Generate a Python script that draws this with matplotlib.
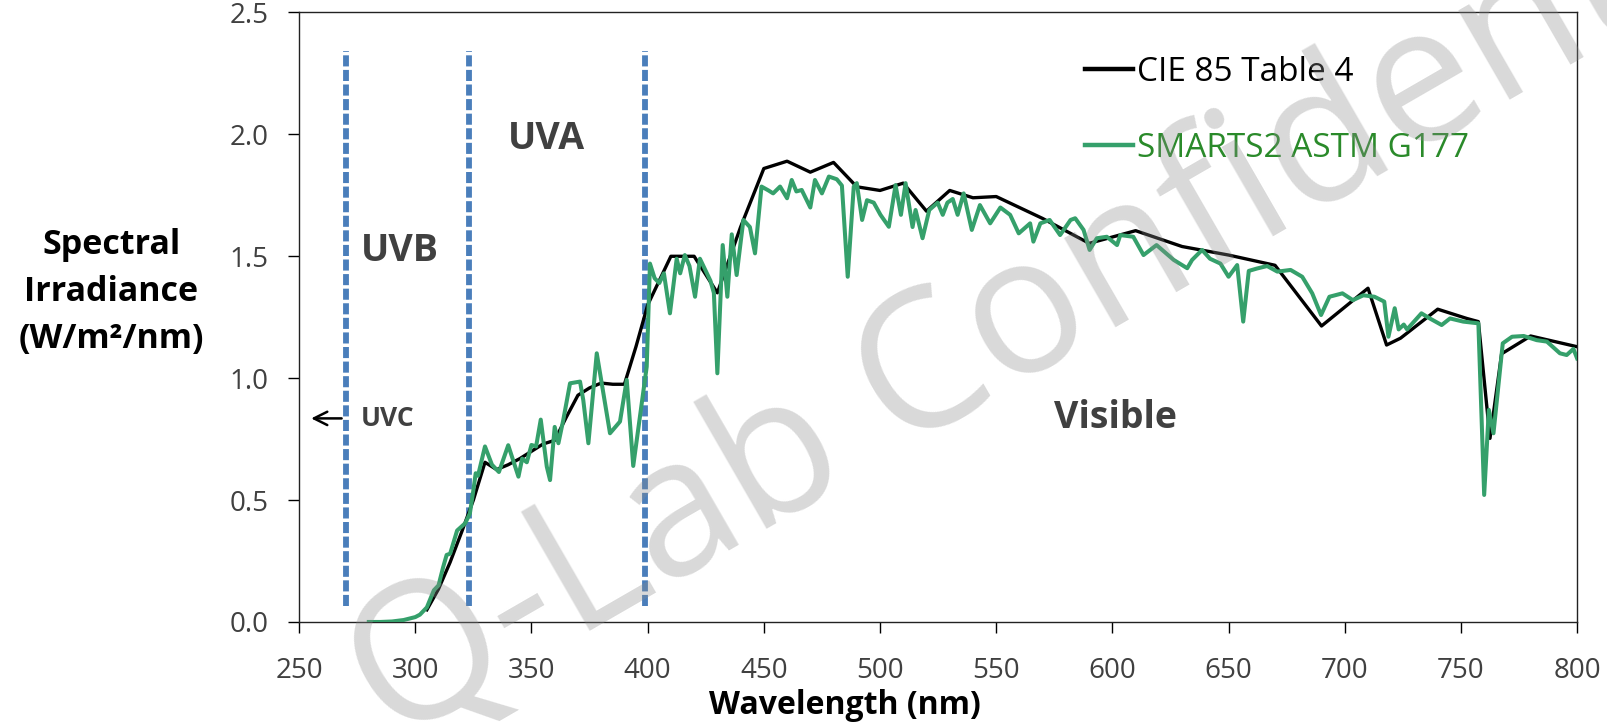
import numpy as np
import matplotlib
matplotlib.use("Agg")
import matplotlib.pyplot as plt

plt.rcParams["font.family"] = ["Open Sans", "DejaVu Sans"]

# CIE 85 Table 4 (coarse reference spectrum)
cie_wl = [305, 310, 315, 320, 325, 330, 335, 340, 345, 350, 355, 360, 365, 370,
          375, 380, 385, 390, 395, 400, 410, 420, 430, 440, 450, 460, 470, 480,
          490, 500, 510, 520, 530, 540, 550, 570, 590, 610, 630, 650, 670, 690,
          710, 718, 724, 740, 752.5, 757.5, 762.5, 767.5, 780, 800]
cie_val = [0.05, 0.135, 0.245, 0.37, 0.50, 0.655, 0.625, 0.645, 0.67, 0.70,
           0.73, 0.745, 0.84, 0.93, 0.96, 0.98, 0.975, 0.975, 1.13, 1.30, 1.50,
           1.50, 1.35, 1.62, 1.86, 1.89, 1.845, 1.885, 1.785, 1.77, 1.80, 1.685,
           1.77, 1.74, 1.745, 1.655, 1.553, 1.605, 1.54, 1.505, 1.463, 1.214,
           1.369, 1.136, 1.164, 1.283, 1.245, 1.232, 0.753, 1.10, 1.173, 1.129]

# SMARTS2 ASTM G177
smarts_wl = [280, 285, 290, 295, 300, 302, 305, 308, 310, 312, 313.5, 315, 318,
             321.5, 323.5, 325, 326, 327, 330, 333, 336, 340, 344.4, 346, 348,
             350, 352, 354, 356.6, 358, 360, 361.6, 363.7, 366.6, 370.9, 372.3,
             374.5, 378.1, 383.8, 388.1, 391, 393.8, 399.6, 401, 403, 405, 407,
             409.6, 412.5, 414, 416, 418, 420.4, 422.5, 425, 427, 428.5, 430,
             432.3, 434.3, 436.2, 438.3, 441.2, 444, 446.2, 449, 452, 454, 457,
             460, 462, 464, 466.3, 470, 472, 475, 478, 481.4, 483.6, 486.1,
             488.7, 490, 492.3, 494.4, 497.3, 500.2, 503.8, 506.7, 509, 511, 514,
             515.3, 518.3, 521.2, 524.8, 527, 529, 531.3, 533.4, 536, 539.5, 543,
             547.4, 551.8, 556, 559.7, 564.6, 566, 569, 573, 577.5, 582, 584,
             587.6, 590.2, 593.3, 597.6, 602, 603.4, 609, 613.4, 619, 626.4,
             632.2, 634.3, 638.6, 642, 646.5, 650, 653.7, 656.3, 658.7, 662.3,
             666.6, 671, 676.7, 681.7, 686, 689.8, 693.4, 699, 703.5, 708, 712.8,
             717, 718.8, 721.5, 723.2, 725.4, 726.8, 733, 736.6, 741.7, 745.3,
             751, 757.5, 760, 762, 764, 768, 772, 777, 782.6, 787, 792.6, 795.5,
             798.4, 800]
smarts_val = [0.0, 0.0, 0.002, 0.008, 0.02, 0.03, 0.06, 0.13, 0.15, 0.225, 0.275,
              0.28, 0.375, 0.405, 0.445, 0.54, 0.61, 0.60, 0.72, 0.645, 0.615,
              0.725, 0.596, 0.67, 0.655, 0.726, 0.72, 0.83, 0.637, 0.582, 0.80,
              0.733, 0.829, 0.979, 0.986, 0.91, 0.733, 1.102, 0.774, 0.822,
              0.993, 0.64, 1.047, 1.47, 1.41, 1.39, 1.43, 1.266, 1.49, 1.43,
              1.505, 1.46, 1.334, 1.49, 1.44, 1.40, 1.35, 1.02, 1.546, 1.334,
              1.59, 1.423, 1.649, 1.62, 1.512, 1.786, 1.77, 1.758, 1.786, 1.738,
              1.813, 1.766, 1.772, 1.70, 1.813, 1.758, 1.827, 1.816, 1.79, 1.416,
              1.786, 1.80, 1.649, 1.73, 1.72, 1.67, 1.621, 1.792, 1.67, 1.80,
              1.62, 1.69, 1.574, 1.69, 1.72, 1.67, 1.72, 1.735, 1.67, 1.758,
              1.608, 1.71, 1.635, 1.70, 1.67, 1.594, 1.635, 1.56, 1.635, 1.649,
              1.587, 1.649, 1.656, 1.608, 1.526, 1.574, 1.58, 1.546, 1.587, 1.58,
              1.505, 1.546, 1.485, 1.451, 1.485, 1.526, 1.49, 1.47, 1.416, 1.464,
              1.232, 1.44, 1.45, 1.46, 1.437, 1.444, 1.416, 1.348, 1.259, 1.334,
              1.348, 1.32, 1.34, 1.334, 1.314, 1.17, 1.287, 1.20, 1.22, 1.20,
              1.266, 1.245, 1.218, 1.245, 1.232, 1.225, 0.521, 0.87, 0.774, 1.143,
              1.17, 1.173, 1.156, 1.15, 1.102, 1.095, 1.12, 1.081]

band_edges = [270, 323, 399]
x_ticks = list(range(250, 801, 50))
y_ticks = [0.0, 0.5, 1.0, 1.5, 2.0, 2.5]

fig = plt.figure(figsize=(16.08, 7.26), dpi=100)
ax = fig.add_axes([0.186, 0.1433, 0.7948, 0.8395])

for xe in band_edges:
    ax.plot([xe, xe], [0.065, 2.34], color="#4a7ebb", lw=4.2,
            dashes=(1.9, 0.6), zorder=2)

ax.plot(cie_wl, cie_val, color="black", lw=2.4, label="CIE 85 Table 4", zorder=3)
ax.plot(smarts_wl, smarts_val, color="#35a06b", lw=2.9,
        label="SMARTS2 ASTM G177", zorder=4)

ax.set_xlim(250, 800)
ax.set_ylim(0, 2.5)
ax.set_xticks(x_ticks)
ax.set_yticks(y_ticks)
ax.set_yticklabels([f"{v:.1f}" for v in y_ticks])
ax.tick_params(axis="both", direction="out", length=8, width=1.0,
               labelsize=20, labelcolor="#404040")
ax.tick_params(axis="x", pad=17)
ax.tick_params(axis="y", pad=14)
for s in ax.spines.values():
    s.set_linewidth(1.0)
    s.set_color("#222222")

ax.set_xlabel("Wavelength (nm)", fontsize=23, fontweight="bold", va="center")
ax.xaxis.set_label_coords(0.427, -0.137)
ax.set_ylabel("Spectral\nIrradiance\n(W/m²/nm)", fontsize=24.5, fontweight="bold",
              rotation=0, ha="center", va="center", linespacing=1.5)
ax.yaxis.set_label_coords(-0.147, 0.541)

txt = dict(fontsize=27, fontweight="bold", color="#404040", ha="center", va="center")
ax.text(293.5, 1.52, "UVB", **txt)
ax.text(356.6, 1.98, "UVA", **txt)
ax.text(601.4, 0.835, "Visible", **txt)
ax.text(276.5, 0.835, "UVC", fontsize=19, fontweight="bold", color="#404040",
        ha="left", va="center")
ax.annotate("", xy=(254, 0.835), xytext=(269.5, 0.835),
            arrowprops=dict(arrowstyle="->", color="black", lw=1.8,
                            mutation_scale=24))

leg = ax.legend(loc="upper left", bbox_to_anchor=(0.615, 0.929), frameon=False,
                handlelength=1.45, handletextpad=0.1, labelspacing=1.29,
                borderpad=0, borderaxespad=0, prop={"size": 24})
leg.get_texts()[0].set_color("black")
leg.get_texts()[1].set_color("#2a8a2a")
for line in leg.get_lines():
    line.set_linewidth(3.2)

fig.text(392 / 1608, 1 - 745 / 726, "Q-Lab Confidential", fontsize=138,
         color=(0.55, 0.55, 0.55), alpha=0.33, rotation=30,
         rotation_mode="anchor", ha="left", va="baseline", zorder=10)

fig.savefig("out.png", dpi=100)
